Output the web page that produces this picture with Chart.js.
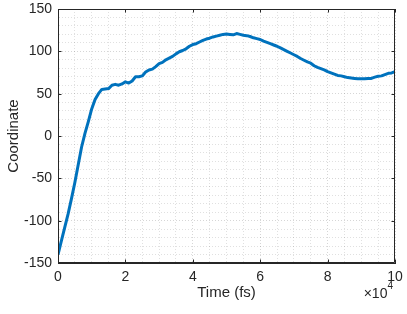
<!DOCTYPE html>
<html>
<head>
<meta charset="utf-8">
<script src="https://cdn.jsdelivr.net/npm/chart.js@4.4.1/dist/chart.umd.min.js"></script>
<style>
html,body{margin:0;padding:0;background:#fff;}
#wrap{width:407px;height:314px;}
</style>
</head>
<body>
<div id="wrap"><canvas id="c" width="407" height="314"></canvas></div>
<script>
// Time (units of 1e4 fs)
const timeValues = [0.0,0.1,0.2,0.3,0.4,0.5,0.6,0.7,0.8,0.9,
  1.0,1.1,1.2,1.3,1.4,1.5,1.6,1.7,1.8,1.9,
  2.0,2.1,2.2,2.3,2.4,2.5,2.6,2.7,2.8,2.9,
  3.0,3.1,3.2,3.3,3.4,3.5,3.6,3.7,3.8,3.9,
  4.0,4.1,4.2,4.3,4.4,4.5,4.6,4.7,4.8,4.9,
  5.0,5.1,5.2,5.3,5.4,5.5,5.6,5.7,5.8,5.9,
  6.0,6.1,6.2,6.3,6.4,6.5,6.6,6.7,6.8,6.9,
  7.0,7.1,7.2,7.3,7.4,7.5,7.6,7.7,7.8,7.9,
  8.0,8.1,8.2,8.3,8.4,8.5,8.6,8.7,8.8,8.9,
  9.0,9.1,9.2,9.3,9.4,9.5,9.6,9.7,9.8,9.9,10.0];
// Coordinate values
const coordValues = [-140,-124,-108,-92,-74,-55,-34,-13,3,17,
  32,43,50,55,55.5,56,60,61,60,61.5,
  64,62.5,65,70,70,71,75.5,78,79,82,
  85.5,87,90,92,94,97,99.5,101,103,106,
  108,109,111,113,114.5,115.5,117,118,119,120,
  120.5,120,119.5,121,120,119,118.5,117.5,116,115,
  114,112,110.5,109,107.5,106,104,102,100,98,
  96,94,91.5,89.5,87.5,86,83,81,79.5,78,
  76,74.5,73,71.5,71,70,69,68.5,68,67.5,
  67.5,67.5,68,68,69.5,70.5,71,72.5,74,74.5,76];
const xMajorTicks = [0,2,4,6,8,10];
const yMajorTicks = [-150,-100,-50,0,50,100,150];
const xMinorStep = 0.5;
const yMinorStep = 10;

const points = timeValues.map((t,i)=>({x:t,y:coordValues[i]}));

function range(a,b,s){const r=[];for(let v=a;v<=b+1e-9;v+=s){r.push({value:Math.round(v*1000)/1000});}return r;}
const isMajor=(arr,v)=>arr.some(m=>Math.abs(m-v)<1e-6);

const FONT='"Liberation Sans", Arial, Helvetica, sans-serif';
const AX='#262626';

const boxPlugin={
  id:'box',
  afterDatasetsDraw(chart){
    const {ctx,chartArea:a,scales:{x,y}}=chart;
    ctx.save();
    ctx.strokeStyle=AX;ctx.lineWidth=1;
    ctx.beginPath();
    ctx.rect(a.left+0.5,a.top+0.5,a.right-a.left-1,a.bottom-a.top-1);
    ctx.stroke();
    const L=3.5;
    ctx.beginPath();
    xMajorTicks.forEach(v=>{const px=Math.round(x.getPixelForValue(v))+0.5;
      ctx.moveTo(px,a.bottom);ctx.lineTo(px,a.bottom-L);
      ctx.moveTo(px,a.top);ctx.lineTo(px,a.top+L);});
    yMajorTicks.forEach(v=>{const py=Math.round(y.getPixelForValue(v))+0.5;
      ctx.moveTo(a.left,py);ctx.lineTo(a.left+L,py);
      ctx.moveTo(a.right,py);ctx.lineTo(a.right-L,py);});
    ctx.stroke();
    // exponent label
    ctx.fillStyle=AX;
    ctx.textBaseline='alphabetic';
    ctx.textAlign='right';
    ctx.font='10px '+FONT;
    ctx.fillText('4',a.right-2,289);
    const w4=ctx.measureText('4').width;
    ctx.font='14px '+FONT;
    ctx.fillText('\u00d710',a.right-2-w4,298);
    ctx.restore();
  }
};

new Chart(document.getElementById('c'),{
  type:'line',
  data:{datasets:[{data:points,borderColor:'#0072BD',backgroundColor:'#0072BD',borderWidth:3,pointRadius:0,tension:0,fill:false,borderJoinStyle:'round'}]},
  options:{
    responsive:false,animation:false,
    layout:{padding:{left:0,top:9,right:12,bottom:0}},
    plugins:{legend:{display:false},tooltip:{enabled:false}},
    scales:{
      x:{type:'linear',min:0,max:10,
        afterBuildTicks(s){s.ticks=range(0,10,xMinorStep);},
        afterFit(s){s.height=51;s.paddingLeft=0;s.paddingRight=0;},
        ticks:{autoSkip:false,maxRotation:0,padding:6,color:AX,font:{family:FONT,size:14},
          callback:(v)=>isMajor(xMajorTicks,v)?String(v):''},
        grid:{drawTicks:false,color:(c)=>isMajor(xMajorTicks,c.tick.value)?'rgba(0,0,0,0.16)':'rgba(0,0,0,0.12)',lineWidth:1},
        border:{display:true,color:AX,dash:[1,2]},
        title:{display:true,text:'Time (fs)',color:AX,font:{family:FONT,size:15},padding:{top:0,bottom:12}}
      },
      y:{type:'linear',min:-150,max:150,
        afterBuildTicks(s){s.ticks=range(-150,150,yMinorStep);},
        afterFit(s){s.width=58;s.paddingTop=0;s.paddingBottom=0;},
        ticks:{autoSkip:false,padding:6,color:AX,font:{family:FONT,size:14},
          callback:(v)=>isMajor(yMajorTicks,v)?String(v):''},
        grid:{drawTicks:false,color:(c)=>isMajor(yMajorTicks,c.tick.value)?'rgba(0,0,0,0.16)':'rgba(0,0,0,0.12)',lineWidth:1},
        border:{display:true,color:AX,dash:[1,2]},
        title:{display:true,text:'Coordinate',color:AX,font:{family:FONT,size:15},padding:{top:5,bottom:0}}
      }
    }
  },
  plugins:[boxPlugin]
});
</script>
</body>
</html>
